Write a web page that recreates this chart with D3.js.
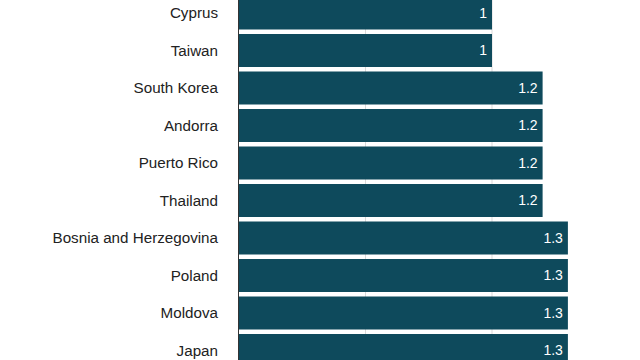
<!DOCTYPE html>
<html><head><meta charset="utf-8">
<script src="https://cdn.jsdelivr.net/npm/d3@7"></script>
<style>body{margin:0;background:#fff}svg{display:block}</style>
</head><body>
<svg id="c" width="640" height="360"></svg>
<script>
const categories = ["Cyprus","Taiwan","South Korea","Andorra","Puerto Rico","Thailand","Bosnia and Herzegovina","Poland","Moldova","Japan"];
const values = [1,1,1.2,1.2,1.2,1.2,1.3,1.3,1.3,1.3];
const gridTicks = [0.5, 1.0];

const svg = d3.select("#c");
const x = d3.scaleLinear().domain([0,1.5]).range([239, 239 + 253*1.5]);
const y = d3.scaleBand().domain(categories).range([-5.75, 369.25]).paddingInner(0.12).paddingOuter(0.06);

svg.append("g").selectAll("line").data(gridTicks).join("line")
  .attr("x1", d=>x(d)).attr("x2", d=>x(d)).attr("y1", 0).attr("y2", 360)
  .attr("stroke", "#d9d9d9").attr("stroke-width", 1);

svg.append("g").selectAll("rect").data(categories).join("rect")
  .attr("x", x(0)).attr("y", d=>y(d))
  .attr("width", (d,i)=>x(values[i]) - x(0)).attr("height", y.bandwidth())
  .attr("fill", "#0e4a5c");

svg.append("line").attr("x1", x(0)-0.5).attr("x2", x(0)-0.5).attr("y1",0).attr("y2",360)
  .attr("stroke","#333").attr("stroke-width",1);

svg.append("g").selectAll("text").data(categories).join("text")
  .attr("x", 218).attr("y", d=>y(d)+y.bandwidth()/2).attr("dy","0.35em")
  .attr("text-anchor","end").attr("font-family","Liberation Sans, Arial, sans-serif")
  .attr("font-size",15.2).attr("fill","#222").text(d=>d);

svg.append("g").selectAll("text").data(categories).join("text")
  .attr("x", (d,i)=>x(values[i]) - 5).attr("y", d=>y(d)+y.bandwidth()/2).attr("dy","0.35em")
  .attr("text-anchor","end").attr("font-family","Liberation Sans, Arial, sans-serif")
  .attr("font-size",14).attr("fill","#ffffff").text((d,i)=>String(values[i]));
</script>
</body></html>
